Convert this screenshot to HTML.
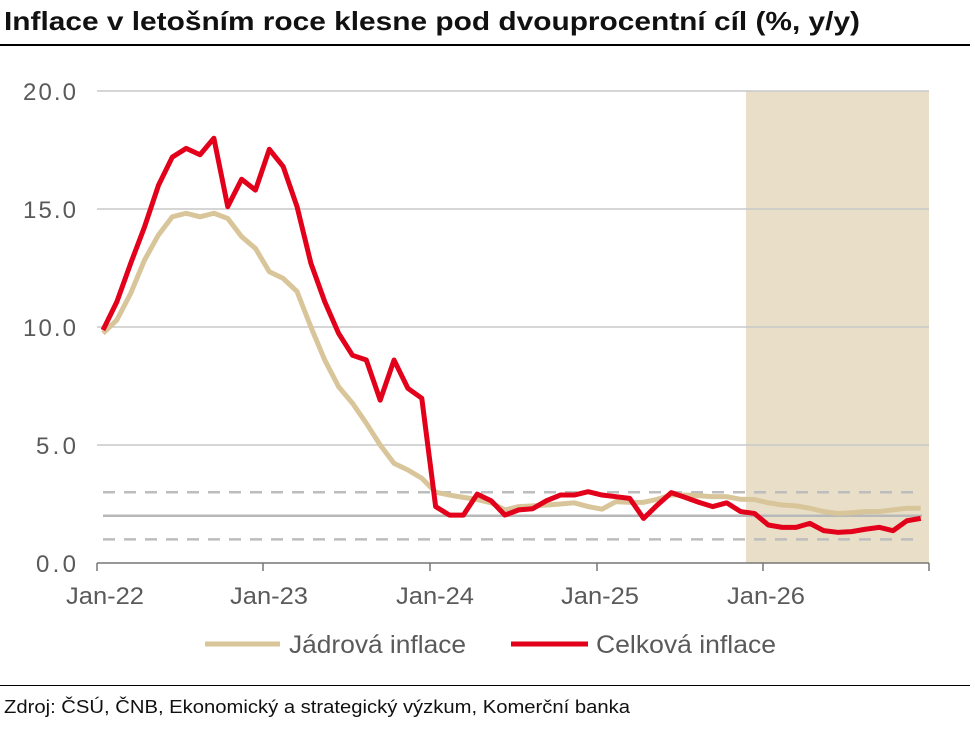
<!DOCTYPE html>
<html><head><meta charset="utf-8"><style>
body{margin:0;background:#fff;width:975px;height:728px;overflow:hidden;font-family:"Liberation Sans",sans-serif}
</style></head><body>
<svg width="975" height="728" xmlns="http://www.w3.org/2000/svg" font-family="Liberation Sans, sans-serif">
<text x="4" y="30" font-size="26" font-weight="bold" fill="#111" textLength="856" lengthAdjust="spacingAndGlyphs">Inflace v letošním roce klesne pod dvouprocentní cíl (%, y/y)</text>
<rect x="0" y="44" width="970" height="2" fill="#000"/>
<rect x="746" y="91" width="183" height="472" fill="#e9dfc9"/>
<g stroke="#c8c8c8" stroke-width="1.5">
<line x1="97" y1="91" x2="929" y2="91"/><line x1="97" y1="209" x2="929" y2="209"/><line x1="97" y1="327" x2="929" y2="327"/><line x1="97" y1="445" x2="929" y2="445"/>
</g>
<line x1="103" y1="515.8" x2="922" y2="515.8" stroke="#b8b8b8" stroke-width="2.5"/>
<g stroke="#bdbdbd" stroke-width="2.5" stroke-dasharray="12,9">
<line x1="103" y1="492.2" x2="922" y2="492.2"/><line x1="103" y1="539.4" x2="922" y2="539.4"/>
</g>
<line x1="97" y1="563" x2="929" y2="563" stroke="#777" stroke-width="1.5"/>
<g stroke="#777" stroke-width="1.5">
<line x1="97" y1="563" x2="97" y2="571"/><line x1="263" y1="563" x2="263" y2="571"/><line x1="430" y1="563" x2="430" y2="571"/><line x1="597" y1="563" x2="597" y2="571"/><line x1="763" y1="563" x2="763" y2="571"/><line x1="929" y1="563" x2="929" y2="571"/>
</g>
<g font-size="24" fill="#5a5a5a" text-anchor="end" lengthAdjust="spacingAndGlyphs">
<text x="76" y="100" textLength="53">20.0</text><text x="76" y="218" textLength="53">15.0</text><text x="76" y="336" textLength="53">10.0</text><text x="76" y="454" textLength="40">5.0</text><text x="76" y="572" textLength="40">0.0</text>
</g>
<g font-size="24" fill="#5a5a5a">
<text x="66" y="604" textLength="78" lengthAdjust="spacingAndGlyphs">Jan-22</text><text x="230" y="604" textLength="78" lengthAdjust="spacingAndGlyphs">Jan-23</text><text x="396" y="604" textLength="78" lengthAdjust="spacingAndGlyphs">Jan-24</text><text x="561" y="604" textLength="78" lengthAdjust="spacingAndGlyphs">Jan-25</text><text x="727" y="604" textLength="78" lengthAdjust="spacingAndGlyphs">Jan-26</text>
</g>
<g transform="translate(103,563) scale(13.86,-23.6)" fill="none" stroke-linejoin="round">
<polyline vector-effect="non-scaling-stroke" stroke="#d9c59a" stroke-width="5" points="0,9.73 1,10.3 2,11.43 3,12.84 4,13.9 5,14.67 6,14.82 7,14.67 8,14.82 9,14.6 10,13.83 11,13.33 12,12.34 13,12.06 14,11.5 15,10.0 16,8.6 17,7.47 18,6.77 19,5.92 20,5.0 21,4.22 22,3.94 23,3.59 24,3.0 25,2.88 26,2.78 27,2.69 28,2.55 29,2.25 30,2.39 31,2.42 32,2.46 33,2.5 34,2.55 35,2.39 36,2.28 37,2.6 38,2.57 39,2.57 40,2.7 41,2.88 42,2.88 43,2.85 44,2.81 45,2.81 46,2.7 47,2.69 48,2.55 49,2.46 50,2.42 51,2.32 52,2.18 53,2.1 54,2.13 55,2.18 56,2.18 57,2.25 58,2.32 59,2.32"/>
<polyline vector-effect="non-scaling-stroke" stroke="#e2001a" stroke-width="5" points="0,9.87 1,11.07 2,12.7 3,14.25 4,16.0 5,17.2 6,17.57 7,17.3 8,18.0 9,15.1 10,16.26 11,15.8 12,17.53 13,16.8 14,15.1 15,12.7 16,11.07 17,9.73 18,8.8 19,8.6 20,6.9 21,8.6 22,7.4 23,6.98 24,2.39 25,2.03 26,2.03 27,2.92 28,2.64 29,2.03 30,2.25 31,2.3 32,2.64 33,2.88 34,2.88 35,3.02 36,2.88 37,2.81 38,2.74 39,1.89 40,2.46 41,2.98 42,2.78 43,2.57 44,2.39 45,2.55 46,2.18 47,2.1 48,1.61 49,1.51 50,1.51 51,1.68 52,1.37 53,1.3 54,1.33 55,1.43 56,1.51 57,1.37 58,1.79 59,1.89"/>
</g>
<line x1="205" y1="644" x2="280" y2="644" stroke="#d9c59a" stroke-width="5"/>
<text x="289" y="653" font-size="25" fill="#5a5a5a" textLength="177" lengthAdjust="spacingAndGlyphs">Jádrová inflace</text>
<line x1="511" y1="644" x2="588" y2="644" stroke="#e2001a" stroke-width="5"/>
<text x="596" y="653" font-size="25" fill="#5a5a5a" textLength="180" lengthAdjust="spacingAndGlyphs">Celková inflace</text>
<rect x="0" y="685" width="970" height="1" fill="#000"/>
<text x="4" y="713" font-size="18" fill="#111" textLength="626" lengthAdjust="spacingAndGlyphs">Zdroj: ČSÚ, ČNB, Ekonomický a strategický výzkum, Komerční banka</text>
</svg>
</body></html>
